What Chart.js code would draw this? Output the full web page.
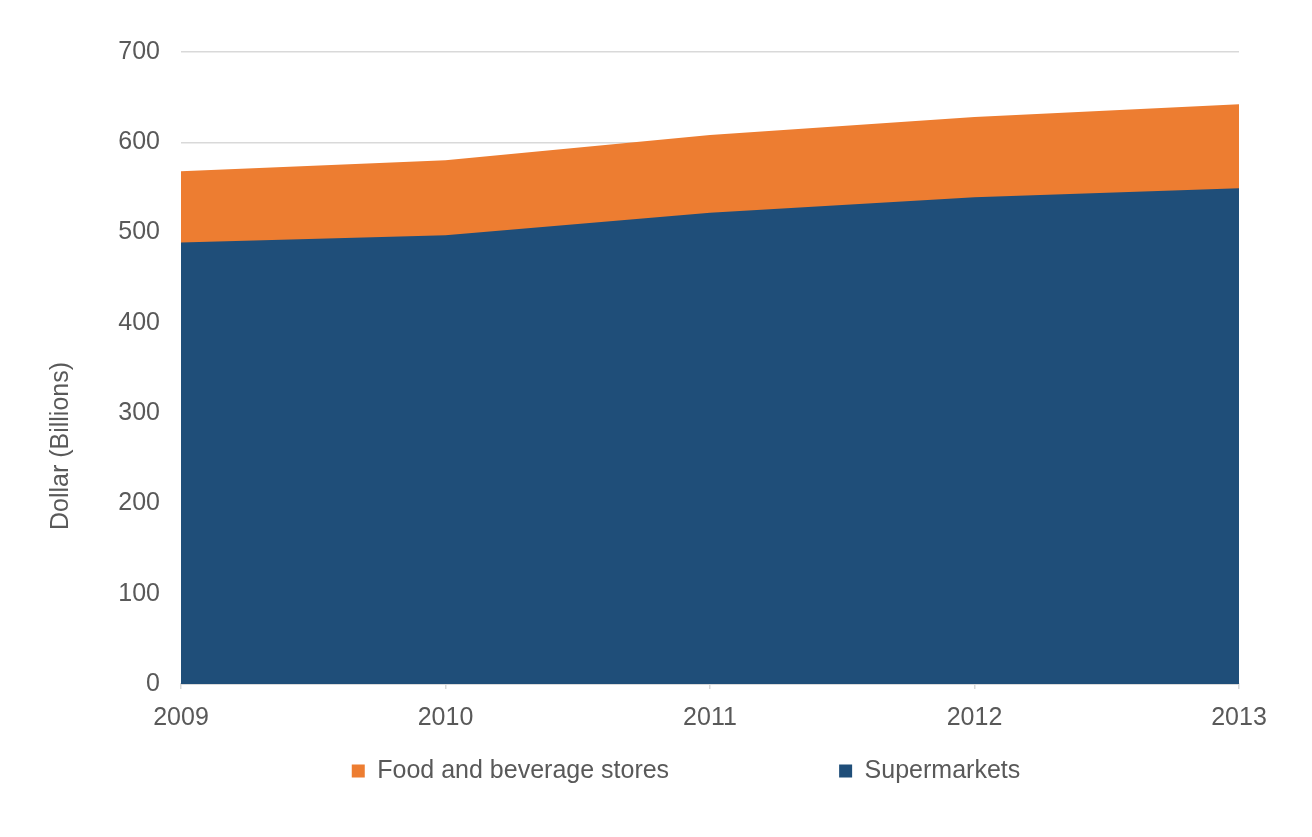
<!DOCTYPE html>
<html>
<head>
<meta charset="utf-8">
<script src="https://cdn.jsdelivr.net/npm/chart.js@4"></script>
<style>
  html, body { margin: 0; padding: 0; background: #fff; }
  #wrap { width: 1312px; height: 837px; }
</style>
</head>
<body>
<div id="wrap"><canvas id="area-chart"></canvas></div>
<script>
// values (billions of dollars)
years = ["2009", "2010", "2011", "2012", "2013"];
food_bev = [568, 580, 608, 628, 642];
supermarkets = [489, 497, 522, 539, 549];
y_ticks = [0, 100, 200, 300, 400, 500, 600, 700];

FONT = '"Liberation Sans", Arial, sans-serif';
GREY_TEXT = "#595959";
GREY_LINE = "#d9d9d9";

// y title sits lower than the plot centre in the original, so draw it by hand
var yTitle = {
  id: 'yTitle',
  afterDraw: function(chart) {
    var ctx = chart.ctx;
    ctx.save();
    ctx.translate(61, 446);
    ctx.rotate(-Math.PI / 2);
    ctx.font = '25px ' + FONT;
    ctx.fillStyle = GREY_TEXT;
    ctx.textAlign = 'center';
    ctx.textBaseline = 'middle';
    ctx.fillText('Dollar (Billions)', 0, 0);
    ctx.restore();
  }
};

// legend items are far apart, so move the legend box after layout
var legendPlace = {
  id: 'legendPlace',
  afterLayout: function(chart) {
    var lg = chart.legend;
    var pad = lg.options.labels.padding;
    var dx = 686 - (lg.left + lg.right) / 2;
    lg.left += dx;
    lg.right += dx;
    lg.top = 771 - 12.5 - pad;
  }
};

new Chart(document.getElementById("area-chart"), {
  type: 'line',
  data: {
    labels: years,
    datasets: [{
        data: supermarkets,
        label: "Supermarkets",
        backgroundColor: "#1f4e79",
        borderColor: "#1f4e79",
        borderWidth: 0,
        pointRadius: 0,
        fill: 'origin'
      }, {
        data: food_bev,
        label: "Food and beverage stores",
        backgroundColor: "#ed7d31",
        borderColor: "#ed7d31",
        borderWidth: 0,
        pointRadius: 0,
        fill: 'origin'
      }
    ]
  },
  plugins: [yTitle, legendPlace],
  options: {
    responsive: true,
    maintainAspectRatio: false,
    animation: false,
    layout: { padding: { top: 52, right: 73, left: 0, bottom: 0 } },
    plugins: {
      tooltip: { enabled: false },
      title: { display: false },
      legend: {
        position: 'bottom',
        reverse: true,
        maxHeight: 90,
        labels: {
          boxWidth: 13,
          boxHeight: 13,
          padding: 170,
          color: GREY_TEXT,
          font: { family: FONT, size: 25 }
        }
      }
    },
    scales: {
      x: {
        offset: false,
        grid: { display: true, drawOnChartArea: false, drawTicks: true, tickLength: 5, color: GREY_LINE, lineWidth: 1.5 },
        border: { display: true, color: GREY_LINE, width: 2 },
        ticks: { color: GREY_TEXT, padding: 14, maxRotation: 0, font: { family: FONT, size: 25 } }
      },
      y: {
        min: 0,
        max: 700,
        afterFit: function(scale) { scale.width = 181; },
        afterBuildTicks: function(scale) { scale.ticks = y_ticks.map(function(v) { return { value: v }; }); },
        grid: { color: GREY_LINE, lineWidth: 1.5, drawTicks: false },
        border: { display: false },
        ticks: { color: GREY_TEXT, padding: 21, font: { family: FONT, size: 25 } }
      }
    }
  }
});
</script>
</body>
</html>
